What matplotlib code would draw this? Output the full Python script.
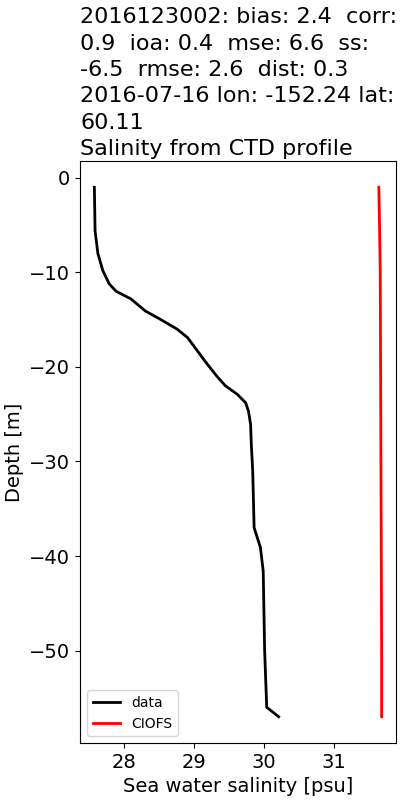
""" Salinity profile: CTD cast vs CIOFS model """
import matplotlib
matplotlib.use('Agg')
import matplotlib.pyplot as plt

#data
depth_obs = [-1, -5.6, -8, -9.8, -11.2, -12, -12.8, -14.1, -15, -16, -16.9, -18.3,
             -19.5, -21, -22, -22.9, -23.8, -24.7, -26.1, -28.2, -31, -37, -39.1,
             -41.6, -50, -56, -57]
sal_obs = [27.58, 27.59, 27.63, 27.70, 27.79, 27.89, 28.10, 28.31, 28.53, 28.76, 28.91, 29.05,
           29.17, 29.33, 29.45, 29.62, 29.74, 29.78, 29.81, 29.82, 29.84, 29.86, 29.95,
           29.99, 30.01, 30.04, 30.21]
depth_mod = [-1, -5, -10, -20, -30, -40, -50, -57]
sal_mod = [31.64, 31.65, 31.66, 31.665, 31.67, 31.675, 31.68, 31.68]

title = ('2016123002: bias: 2.4  corr:\n0.9  ioa: 0.4  mse: 6.6  ss:\n'
         '-6.5  rmse: 2.6  dist: 0.3\n2016-07-16 lon: -152.24 lat:\n60.11\n'
         'Salinity from CTD profile')

fig, ax = plt.subplots(figsize=(4, 8), dpi=100)
ax.plot(sal_obs, depth_obs, color='k', lw=2, label='data')
ax.plot(sal_mod, depth_mod, color='r', lw=2, label='CIOFS')
ax.set_title(title, loc='left', fontsize=16, linespacing=1.4, pad=4)
ax.set_xlabel('Sea water salinity [psu]', fontsize=14)
ax.set_ylabel('Depth [m]', fontsize=14)
ax.set_xticks([28, 29, 30, 31])
ax.tick_params(labelsize=14)
ax.legend(loc='lower left', fontsize=10)
fig.subplots_adjust(left=0.2, right=0.99, bottom=0.071, top=0.799)
fig.savefig('out.png')
